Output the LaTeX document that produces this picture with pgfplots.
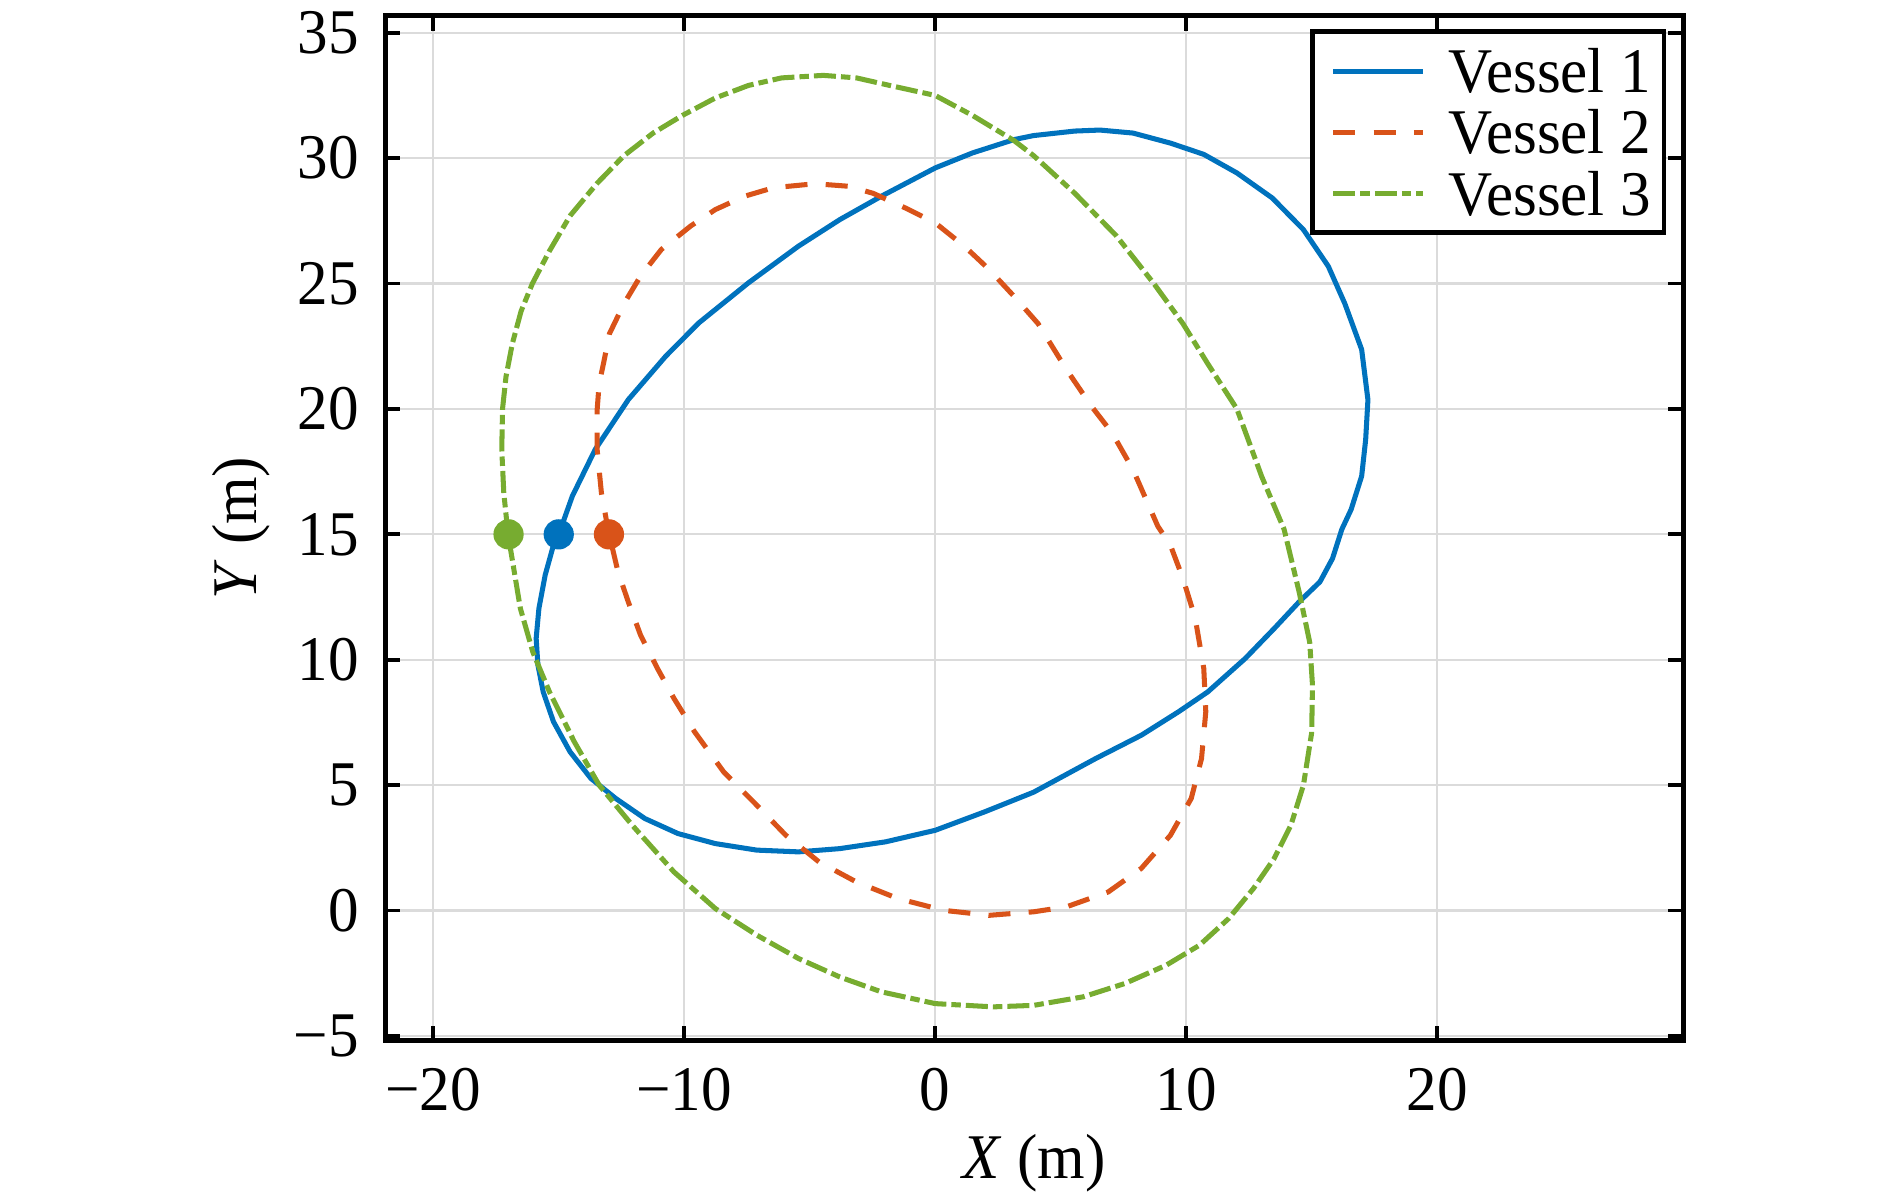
\documentclass[border=0pt]{standalone}
\usepackage{fontspec}
\setmainfont{Liberation Serif}[FakeStretch=0.96]
\usepackage{pgfplots}
\pgfplotsset{compat=1.18}
\definecolor{cA}{RGB}{0,114,189}
\definecolor{cB}{RGB}{217,83,25}
\definecolor{cC}{RGB}{119,172,48}
\newcommand{\ff}{\fontsize{10.1}{12}\selectfont}
\begin{document}
\begin{tikzpicture}
\begin{axis}[
  scale only axis,
  width=206.0pt, height=162.7pt,
  xmin=-21.91, xmax=29.80,
  ymin=-5.19, ymax=35.68,
  xtick={-20,-10,0,10,20},
  xticklabels={−20,−10,0,10,20},
  ytick={-5,0,5,10,15,20,25,30,35},
  yticklabels={−5,0,5,10,15,20,25,30,35},
  tick align=inside,
  major tick length=2.4pt,
  tick style={line width=0.6pt, black},
  axis line style={line width=0.75pt, black},
  grid=major,
  major grid style={line width=0.35pt, black!14},
  xticklabel style={font=\ff, inner sep=0pt, anchor=north, yshift=-4.1pt},
  yticklabel style={font=\ff, inner sep=0pt, anchor=east, xshift=-4.0pt},
  xlabel={\textit{X} (m)},
  ylabel={\textit{Y} (m)},
  xlabel style={font=\ff, at={(axis description cs:0.5,-0.1341)}, anchor=base},
  ylabel style={font=\ff, at={(axis description cs:-0.0996,0.5)}, anchor=base},
  legend cell align=left,
  legend image code/.code={\path (0pt,0pt); \draw[#1] (0.8pt,0pt) -- (15.1pt,0pt);},
  legend style={font=\ff, at={(axis description cs:1,1)}, anchor=north east,
    xshift=-3.05pt, yshift=-2.54pt, draw=black, line width=0.7pt, fill=white,
    outer sep=0pt, inner xsep=2.1pt, inner ysep=2.8pt, row sep=2.8pt, column sep=3.65pt,
    nodes={inner sep=0pt, text height=6.9pt, text depth=0pt}},
]
\addplot[cA, line width=0.8pt, line join=round] coordinates {
(-15.0,15.0) (-14.46,16.52) (-13.55,18.38) (-12.23,20.37) (-10.74,22.1) (-9.42,23.43)
(-7.44,25.03) (-5.45,26.49) (-3.8,27.55) (-2.15,28.48) (0,29.61) (1.49,30.21)
(3.14,30.74) (3.92,30.9) (5.56,31.08) (6.56,31.12) (7.88,31.0) (9.37,30.6)
(10.7,30.15) (12.02,29.41) (13.43,28.41) (14.67,27.15) (15.66,25.69) (16.32,24.2)
(16.99,22.37) (17.24,20.37) (17.15,18.78) (16.99,17.32) (16.57,15.99) (16.2,15.2)
(15.83,14.04) (15.33,13.11) (14.5,12.31) (13.51,11.25) (12.35,10.05) (10.86,8.72)
(9.7,7.93) (8.21,6.99) (6.39,6.06) (3.92,4.72) (1.98,3.94) (0,3.2)
(-1.98,2.74) (-3.8,2.47) (-5.45,2.34) (-7.11,2.41) (-8.76,2.67) (-10.25,3.07)
(-11.57,3.67) (-12.73,4.47) (-13.72,5.27) (-14.55,6.33) (-15.21,7.53) (-15.62,8.72)
(-15.83,9.79) (-15.9,10.85) (-15.79,12.05) (-15.54,13.38) (-15.21,14.57) (-15.0,15.0)
};
\addlegendentry{Vessel 1}
\addplot[cB, line width=0.8pt, line join=round, dash pattern=on 3.5pt off 2.9pt] coordinates {
(-13.0,15.0) (-13.3,16.65) (-13.47,18.38) (-13.47,19.97) (-13.39,21.0) (-13.22,21.8)
(-12.98,23.0) (-12.4,24.2) (-11.74,25.3) (-10.91,26.36) (-9.75,27.29) (-8.76,27.95)
(-7.6,28.48) (-6.45,28.82) (-4.79,28.98) (-3.47,28.88) (-2.48,28.6) (-1.16,28.0)
(0,27.42) (1.16,26.49) (2.15,25.56) (3.14,24.49) (4.1,23.4) (5.23,21.57)
(6.23,20.1) (7.05,19.04) (7.88,17.58) (8.87,15.32) (9.37,14.57) (9.87,13.24)
(10.36,11.65) (10.7,9.65) (10.78,7.93) (10.61,6.06) (10.2,4.47) (9.37,3.0)
(8.21,1.68) (6.89,0.74) (5.23,0.15) (3.92,-0.05) (2.15,-0.19) (0.33,0.01)
(-1.49,0.48) (-3.14,1.14) (-4.63,1.94) (-5.95,3.0) (-7.11,4.2) (-8.43,5.53)
(-9.59,7.13) (-10.41,8.46) (-11.07,9.66) (-11.74,10.98) (-12.23,12.31) (-12.64,13.51)
(-12.89,14.57) (-13.0,15.0)
};
\addlegendentry{Vessel 2}
\addplot[cC, line width=0.8pt, line join=round, dash pattern=on 3.5pt off 0.8pt on 1.5pt off 0.8pt] coordinates {
(-17.02,15.0) (-17.19,16.66) (-17.27,18.38) (-17.24,20.0) (-17.1,21.3) (-16.85,22.6)
(-16.5,23.9) (-16.05,25.0) (-15.37,26.3) (-14.55,27.7) (-13.47,29.0) (-12.4,30.1)
(-11.24,31.0) (-10.08,31.7) (-8.76,32.4) (-7.44,32.9) (-6.12,33.2) (-4.46,33.3)
(-3.14,33.2) (-1.82,32.9) (0,32.5) (1.49,31.7) (3.14,30.7) (3.92,30.1)
(5.56,28.6) (7.22,26.9) (8.71,25.0) (9.87,23.4) (10.86,21.8) (12.02,20.0)
(13.01,17.3) (13.9,15.2) (14.5,12.7) (14.92,10.7) (15.03,9.0) (15.0,7.1)
(14.67,5.0) (14.17,3.4) (13.5,2.07) (12.68,0.88) (11.69,-0.32) (10.53,-1.38)
(9.2,-2.18) (7.55,-2.91) (5.89,-3.44) (3.92,-3.78) (2.31,-3.84) (0,-3.71)
(-2.15,-3.24) (-3.8,-2.65) (-5.45,-1.91) (-7.11,-0.98) (-8.76,0.08) (-10.41,1.54)
(-12.07,3.4) (-13.39,5.0) (-14.38,6.73) (-15.37,8.72) (-16.03,10.3) (-16.53,12.05)
(-16.86,14.04) (-17.02,15.0)
};
\addlegendentry{Vessel 3}
\addplot[only marks, mark=*, mark size=2.2pt, cA, mark options={fill=cA, draw=cA}, forget plot] coordinates {(-15,15)};
\addplot[only marks, mark=*, mark size=2.2pt, cB, mark options={fill=cB, draw=cB}, forget plot] coordinates {(-13,15)};
\addplot[only marks, mark=*, mark size=2.2pt, cC, mark options={fill=cC, draw=cC}, forget plot] coordinates {(-17,15)};
\end{axis}
\pgfresetboundingbox
\path[use as bounding box] ([xshift=-61.16pt,yshift=-24.95pt]current axis.south west) rectangle ([xshift=32.83pt,yshift=2.49pt]current axis.north east);
\end{tikzpicture}
\end{document}
